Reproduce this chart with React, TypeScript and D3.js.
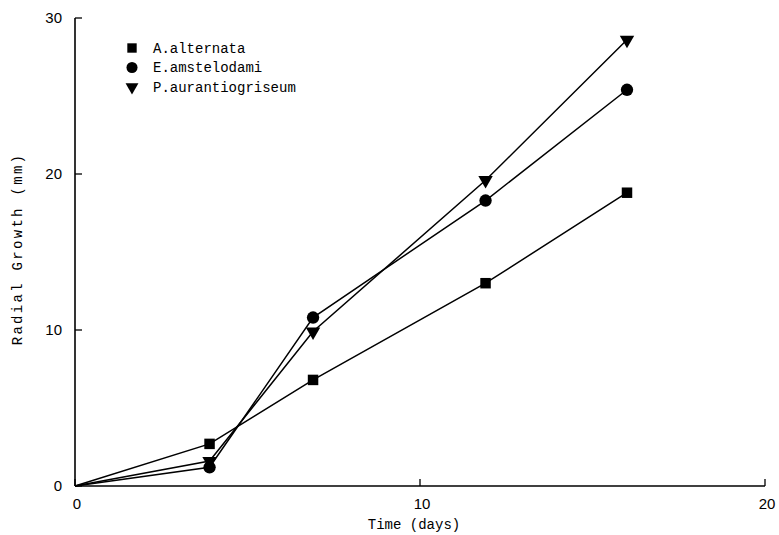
import { useEffect, useRef } from 'react';
import * as d3 from 'd3';

// values
const days = [0, 3.9, 6.9, 11.9, 16];
const alternata = [0, 2.7, 6.8, 13.0, 18.8];
const amstelodami = [0, 1.2, 10.8, 18.3, 25.4];
const aurantiogriseum = [0, 1.6, 9.9, 19.6, 28.6];
const seriesNames = ['A.alternata', 'E.amstelodami', 'P.aurantiogriseum'];
const xTicks = [0, 10, 20];
const yTicks = [0, 10, 20, 30];

const mono = '"Liberation Mono", "DejaVu Sans Mono", monospace';
const sans = '"Liberation Sans", Arial, sans-serif';

const App = () => {
  const svgRef = useRef<SVGSVGElement | null>(null);

  useEffect(() => {
    const svg = d3.select(svgRef.current);
    svg.selectAll('*').remove();

    const x = d3.scaleLinear().domain([0, 20]).range([75, 765]);
    const y = d3.scaleLinear().domain([0, 30]).range([486, 18]);

    const g = svg.append('g');

    // axes
    g.append('line')
      .attr('x1', x(0)).attr('x2', x(0))
      .attr('y1', y(30)).attr('y2', y(0))
      .attr('stroke', '#000').attr('stroke-width', 1.6);
    g.append('line')
      .attr('x1', x(0)).attr('x2', x(20))
      .attr('y1', y(0)).attr('y2', y(0))
      .attr('stroke', '#000').attr('stroke-width', 1.6);

    yTicks.forEach(t => {
      g.append('line')
        .attr('x1', x(0)).attr('x2', x(0) + 7)
        .attr('y1', y(t)).attr('y2', y(t))
        .attr('stroke', '#000').attr('stroke-width', 1.3);
      g.append('text')
        .attr('x', 62).attr('y', y(t))
        .attr('dy', '0.35em')
        .attr('text-anchor', 'end')
        .style('font-family', sans).style('font-size', '15px')
        .text(t);
    });

    xTicks.forEach(t => {
      g.append('line')
        .attr('x1', x(t)).attr('x2', x(t))
        .attr('y1', y(0)).attr('y2', y(0) - 7)
        .attr('stroke', '#000').attr('stroke-width', 1.3);
      g.append('text')
        .attr('x', x(t) + 2).attr('y', 504)
        .attr('dy', '0.35em')
        .attr('text-anchor', 'middle')
        .style('font-family', sans).style('font-size', '15px')
        .text(t);
    });

    g.append('text')
      .attr('x', 414).attr('y', 529)
      .attr('text-anchor', 'middle')
      .style('font-family', mono).style('font-size', '14px')
      .text('Time (days)');

    g.append('text')
      .attr('transform', 'translate(22,249) rotate(-90)')
      .attr('text-anchor', 'middle')
      .style('font-family', mono).style('font-size', '14px')
      .style('letter-spacing', '2.3px')
      .text('Radial Growth (mm)');

    // series
    const line = d3.line<[number, number]>()
      .x(d => x(d[0]))
      .y(d => y(d[1]));

    const all = [alternata, amstelodami, aurantiogriseum];
    const symbols = [d3.symbolSquare, d3.symbolCircle, d3.symbolTriangle];
    const sizes = [110, 120, 90];
    const rotations = [0, 0, 180];

    all.forEach((vals, i) => {
      const pts = days.map((d, j) => [d, vals[j]] as [number, number]);
      g.append('path')
        .attr('d', line(pts))
        .attr('fill', 'none')
        .attr('stroke', '#000')
        .attr('stroke-width', 1.5);
      g.selectAll(null)
        .data(pts.slice(1))
        .enter()
        .append('path')
        .attr('d', d3.symbol().type(symbols[i]).size(sizes[i])())
        .attr('transform', d => `translate(${x(d[0])},${y(d[1])}) rotate(${rotations[i]})`)
        .attr('fill', '#000');
    });

    // legend
    const legend = g.append('g');
    seriesNames.forEach((name, i) => {
      const ly = 48 + i * 19.5;
      legend.append('path')
        .attr('d', d3.symbol().type(symbols[i]).size(sizes[i] * 0.8)())
        .attr('transform', `translate(132,${ly}) rotate(${rotations[i]})`)
        .attr('fill', '#000');
      legend.append('text')
        .attr('x', 153).attr('y', ly)
        .attr('dy', '0.35em')
        .style('font-family', mono).style('font-size', '14px')
        .text(name);
    });
  }, []);

  return (
    <svg
      ref={svgRef}
      width={779}
      height={535}
      style={{ position: 'absolute', left: 0, top: 0, background: '#fff' }}
    />
  );
};

export default App;
